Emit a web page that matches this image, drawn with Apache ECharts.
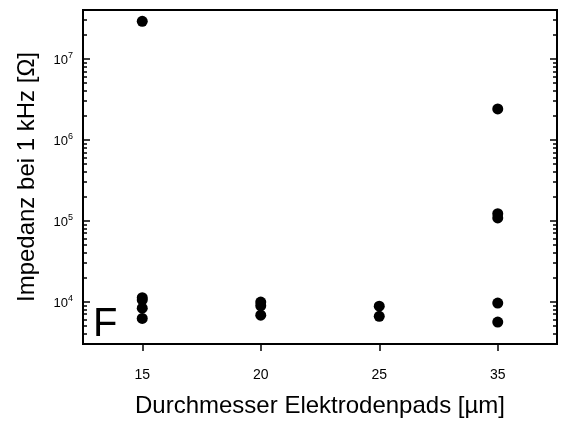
<!DOCTYPE html>
<html>
<head>
<meta charset="utf-8">
<script src="https://cdn.jsdelivr.net/npm/echarts@6/dist/echarts.min.js"></script>
<style>
  html, body { margin: 0; padding: 0; background: #fff; }
  #chart { width: 564px; height: 423px; }
</style>
</head>
<body>
<div id="chart"></div>
<script>
// Pad diameters (categories on the x axis)
const diameters = ['15', '20', '25', '35'];

// Impedance at 1 kHz per pad diameter, in ohms
const impedance15 = [2.9e7, 1.12e4, 1.05e4, 8.3e3, 6.2e3];
const impedance20 = [9.9e3, 8.9e3, 6.8e3];
const impedance25 = [8.8e3, 6.6e3];
const impedance35 = [2.4e6, 1.22e5, 1.08e5, 9.6e3, 5.6e3];

// Y axis range and labelled decades
const yMin = 3000;
const yMax = 4e7;
const yTickValues = [1e4, 1e5, 1e6, 1e7];
const yTickExponents = ['4', '5', '6', '7'];
const minorFactors = [2, 3, 4, 5, 6, 7, 8, 9];
const minorDecades = [1e3, 1e4, 1e5, 1e6, 1e7];

const minorTickValues = [];
minorDecades.forEach(d => minorFactors.forEach(f => {
  const v = d * f;
  if (v > yMin && v < yMax) minorTickValues.push(v);
}));

const seriesPoints = [];
[impedance15, impedance20, impedance25, impedance35].forEach((vals, i) => {
  vals.forEach(v => seriesPoints.push([diameters[i], v]));
});

const FONT = 'Liberation Sans, Arial, sans-serif';
const BLACK = '#000';

function logAxis(position, ticks, len, withLabels) {
  return {
    type: 'log',
    logBase: 10,
    position: position,
    min: yMin,
    max: yMax,
    axisLine: { show: false },
    splitLine: { show: false },
    axisTick: {
      show: true,
      inside: true,
      length: len,
      customValues: ticks,
      lineStyle: { color: BLACK, width: 1.5 }
    },
    axisLabel: withLabels ? {
      show: true,
      customValues: yTickValues,
      margin: 10,
      color: BLACK,
      fontFamily: FONT,
      fontSize: 13,
      formatter: function (v) {
        const idx = yTickValues.findIndex(t => Math.abs(t - v) / t < 1e-6);
        return '{base|10}{sup|' + (idx >= 0 ? yTickExponents[idx] : '') + '}';
      },
      rich: {
        base: { fontSize: 13, fontFamily: FONT, color: BLACK, padding: [4, 0, 0, 0] },
        sup: { fontSize: 9, fontFamily: FONT, color: BLACK, padding: [0, 0, 6, 0] }
      }
    } : { show: false }
  };
}

const chart = echarts.init(document.getElementById('chart'), null, { renderer: 'canvas' });

const yLeftMajor = logAxis('left', yTickValues, 7, true);
yLeftMajor.name = 'Impedanz bei 1 kHz [Ω]';
yLeftMajor.nameLocation = 'middle';
yLeftMajor.nameGap = 44;
yLeftMajor.nameTextStyle = { fontSize: 24, fontFamily: FONT, color: BLACK };

chart.setOption({
  animation: false,
  backgroundColor: '#fff',
  grid: {
    left: 83, right: 7, top: 10, bottom: 74,
    show: true,
    borderColor: BLACK,
    borderWidth: 2,
    backgroundColor: 'transparent'
  },
  xAxis: [{
    type: 'category',
    data: diameters,
    boundaryGap: true,
    position: 'bottom',
    axisLine: { show: true, lineStyle: { color: BLACK, width: 2 } },
    axisTick: { show: true, alignWithLabel: true, length: 7, lineStyle: { color: BLACK, width: 1.5 } },
    axisLabel: { color: BLACK, fontSize: 14, fontFamily: FONT, margin: 24 },
    splitLine: { show: false },
    name: 'Durchmesser Elektrodenpads [µm]',
    nameLocation: 'middle',
    nameGap: 50,
    nameTextStyle: { fontSize: 24, fontFamily: FONT, color: BLACK }
  }],
  yAxis: [
    yLeftMajor,
    logAxis('left', minorTickValues, 4, false),
    logAxis('right', yTickValues, 7, false),
    logAxis('right', minorTickValues, 4, false)
  ],
  graphic: [{
    type: 'text',
    left: 93,
    top: 305,
    style: { text: 'F', fontSize: 40, fontFamily: FONT, fill: BLACK }
  }],
  series: [{
    type: 'scatter',
    data: seriesPoints,
    symbol: 'circle',
    symbolSize: 11,
    itemStyle: { color: BLACK, opacity: 1 },
    emphasis: { disabled: true }
  }]
});
</script>
</body>
</html>
